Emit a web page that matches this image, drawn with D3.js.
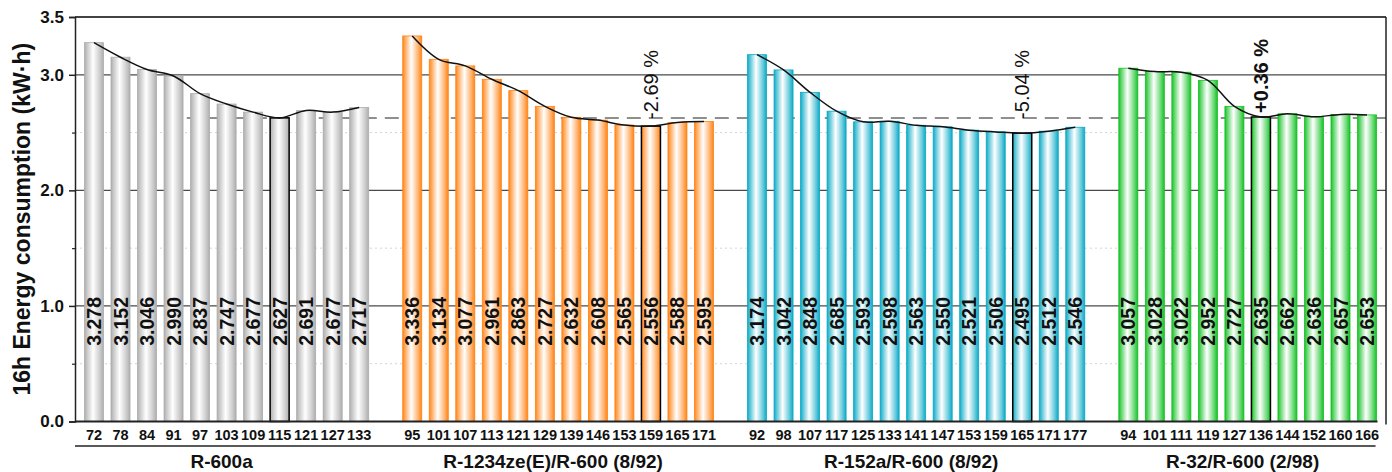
<!DOCTYPE html>
<html>
<head>
<meta charset="utf-8">
<script src="https://cdn.jsdelivr.net/npm/d3@7"></script>
<style>
  html, body { margin: 0; padding: 0; background: #fff; }
  svg { display: block; font-family: Arial, "Liberation Sans", sans-serif; }
</style>
</head>
<body>
<svg id="chart" width="1392" height="472"></svg>
<script>
// Refrigerant mixtures and their compressor speed settings / 16 h energy use
const groupNames = ["R-600a", "R-1234ze(E)/R-600 (8/92)", "R-152a/R-600 (8/92)", "R-32/R-600 (2/98)"];

const speedR600a = ["72", "78", "84", "91", "97", "103", "109", "115", "121", "127", "133"];
const energyR600a = [3.278, 3.152, 3.046, 2.990, 2.837, 2.747, 2.677, 2.627, 2.691, 2.677, 2.717];

const speedR1234ze = ["95", "101", "107", "113", "121", "129", "139", "146", "153", "159", "165", "171"];
const energyR1234ze = [3.336, 3.134, 3.077, 2.961, 2.863, 2.727, 2.632, 2.608, 2.565, 2.556, 2.588, 2.595];

const speedR152a = ["92", "98", "107", "117", "125", "133", "141", "147", "153", "159", "165", "171", "177"];
const energyR152a = [3.174, 3.042, 2.848, 2.685, 2.593, 2.598, 2.563, 2.550, 2.521, 2.506, 2.495, 2.512, 2.546];

const speedR32 = ["94", "101", "111", "119", "127", "136", "144", "152", "160", "166"];
const energyR32 = [3.057, 3.028, 3.022, 2.952, 2.727, 2.635, 2.662, 2.636, 2.657, 2.653];

const optimumIndex = [7, 9, 10, 5];
const deltaLabels = ["", "-2.69 %", "-5.04 %", "+0.36 %"];
const deltaBold = [false, false, false, true];
const referenceEnergy = energyR600a[7];

const yMajorTicks = [0, 1, 2, 3, 3.5];
const yMinorTicks = [0.5, 1.5, 2.5];

(function drawChart() {
  const speeds = [speedR600a, speedR1234ze, speedR152a, speedR32];
  const energies = [energyR600a, energyR1234ze, energyR152a, energyR32];
  const edgeColors = ["#adadad", "#ff8416", "#0aaac6", "#14c224"];
  const font = "Arial, 'Liberation Sans', sans-serif";

  // Flatten into band slots, leaving one empty slot between mixtures
  const slots = [];
  const bars = [];
  speeds.forEach((sp, g) => {
    sp.forEach((s, i) => {
      const key = `g${g}-${i}`;
      slots.push(key);
      bars.push({ key, g, i, speed: s, value: energies[g][i], optimum: optimumIndex[g] === i });
    });
    if (g < speeds.length - 1) slots.push(`gap${g}`);
  });

  const pLeft = 75, pRight = 1386, pTop = 17, pBottom = 421.5;
  const svg = d3.select("#chart");

  const x = d3.scaleBand().domain(slots).range([pLeft, pRight]).paddingInner(0.283).paddingOuter(0.357);
  const y = d3.scaleLinear().domain([0, 3.5]).range([pBottom, pTop]);
  const cx = k => x(k) + x.bandwidth() / 2;

  // Cylinder-like gradients
  const defs = svg.append("defs");
  edgeColors.forEach((c, g) => {
    const lg = defs.append("linearGradient").attr("id", `grad${g}`)
      .attr("x1", "0%").attr("x2", "100%").attr("y1", "0%").attr("y2", "0%");
    const light = d3.interpolateRgb(c, "#ffffff");
    lg.append("stop").attr("offset", "0%").attr("stop-color", c);
    lg.append("stop").attr("offset", "10%").attr("stop-color", light(0.25));
    lg.append("stop").attr("offset", "45%").attr("stop-color", "#ffffff");
    lg.append("stop").attr("offset", "80%").attr("stop-color", light(0.4));
    lg.append("stop").attr("offset", "100%").attr("stop-color", c);
  });

  // Minor dotted gridlines
  svg.append("g").selectAll("line").data(yMinorTicks).join("line")
    .attr("x1", pLeft).attr("x2", pRight)
    .attr("y1", d => y(d)).attr("y2", d => y(d))
    .attr("stroke", "#d4d4d4").attr("stroke-width", 1).attr("stroke-dasharray", "2,3");

  // Major gridlines
  svg.append("g").selectAll("line").data(yMajorTicks.filter(d => d > 0)).join("line")
    .attr("x1", pLeft).attr("x2", pRight)
    .attr("y1", d => y(d)).attr("y2", d => y(d))
    .attr("stroke", "#4a4a4a").attr("stroke-width", 1.2);

  // Reference level (R-600a optimum)
  const refStart = x("g0-4") - (x.step() - x.bandwidth()) / 2;
  svg.append("line")
    .attr("x1", refStart).attr("x2", pRight)
    .attr("y1", y(referenceEnergy)).attr("y2", y(referenceEnergy))
    .attr("stroke", "#8f8f8f").attr("stroke-width", 2).attr("stroke-dasharray", "14,8");

  // Bars
  svg.append("g").selectAll("rect").data(bars).join("rect")
    .attr("x", d => x(d.key))
    .attr("width", x.bandwidth())
    .attr("y", d => y(d.value))
    .attr("height", d => y(0) - y(d.value))
    .attr("fill", d => `url(#grad${d.g})`)
    .attr("stroke", d => d.optimum ? "#000" : edgeColors[d.g])
    .attr("stroke-width", d => d.optimum ? 1.5 : 0.8);

  // Trend curve per mixture
  const line = d3.line().x(d => cx(d.key)).y(d => y(d.value)).curve(d3.curveCatmullRom.alpha(0.5));
  groupNames.forEach((n, g) => {
    svg.append("path").datum(bars.filter(b => b.g === g))
      .attr("d", line).attr("fill", "none").attr("stroke", "#111").attr("stroke-width", 1.5);
  });

  // Value labels inside bars
  svg.append("g").selectAll("text").data(bars).join("text")
    .attr("transform", d => `translate(${cx(d.key)},${y(0.655)}) rotate(-90)`)
    .attr("text-anchor", "start").attr("dy", "0.36em")
    .attr("font-size", 19.5).attr("font-weight", "bold").attr("fill", "#111")
    .text(d => d.value.toFixed(3));

  // Change relative to R-600a optimum
  groupNames.forEach((n, g) => {
    if (!deltaLabels[g]) return;
    const b = bars.find(d => d.g === g && d.optimum);
    const yy = deltaBold[g] ? y(referenceEnergy) - 5 : y(referenceEnergy) + 1;
    svg.append("text")
      .attr("transform", `translate(${cx(b.key)},${yy}) rotate(-90)`)
      .attr("text-anchor", "start").attr("dy", "0.36em")
      .attr("font-size", 20).attr("font-weight", deltaBold[g] ? "bold" : "normal").attr("fill", "#111")
      .text(deltaLabels[g]);
  });

  // Y axis
  const yAxis = svg.append("g").attr("transform", `translate(${pLeft},0)`)
    .call(d3.axisLeft(y).tickValues(yMajorTicks).tickFormat(d3.format(".1f")).tickSize(6).tickPadding(5));
  yAxis.select(".domain").attr("stroke", "#222").attr("stroke-width", 1.5);
  yAxis.selectAll(".tick line").attr("stroke", "#222").attr("stroke-width", 1.5);
  yAxis.selectAll(".tick text").attr("font-size", 17).attr("font-weight", "bold").attr("fill", "#111")
    .attr("font-family", font);
  svg.append("g").attr("transform", `translate(${pLeft},0)`)
    .call(d3.axisLeft(y).tickValues(yMinorTicks).tickFormat("").tickSize(3))
    .call(g => g.select(".domain").remove())
    .selectAll(".tick line").attr("stroke", "#222").attr("stroke-width", 1.2);

  // X axis with speed labels
  const barSlots = bars.map(b => b.key);
  const speedOf = new Map(bars.map(b => [b.key, b.speed]));
  const xAxis = svg.append("g").attr("transform", `translate(0,${pBottom})`)
    .call(d3.axisBottom(x).tickValues(barSlots).tickFormat(k => speedOf.get(k)).tickSize(0).tickPadding(8));
  xAxis.select(".domain").remove();
  xAxis.selectAll(".tick text").attr("font-size", 14.5).attr("font-weight", "bold").attr("fill", "#111")
    .attr("font-family", font);

  const lastKey = barSlots[barSlots.length - 1];
  svg.append("line")
    .attr("x1", pLeft).attr("x2", x(lastKey) + x.bandwidth() + 1)
    .attr("y1", pBottom).attr("y2", pBottom)
    .attr("stroke", "#222").attr("stroke-width", 2);

  // Frame: top and right borders
  svg.append("line").attr("x1", pLeft).attr("x2", pRight).attr("y1", pTop).attr("y2", pTop)
    .attr("stroke", "#222").attr("stroke-width", 1.5);
  svg.append("line").attr("x1", pRight).attr("x2", pRight).attr("y1", pTop).attr("y2", pBottom + 3)
    .attr("stroke", "#222").attr("stroke-width", 1.5);

  // Separator under speed labels
  svg.append("line")
    .attr("x1", pLeft).attr("x2", x(lastKey) + x.bandwidth() - 1)
    .attr("y1", 446).attr("y2", 446)
    .attr("stroke", "#222").attr("stroke-width", 1.5);

  // Mixture names
  groupNames.forEach((n, g) => {
    const gb = bars.filter(b => b.g === g);
    const mid = (cx(gb[0].key) + cx(gb[gb.length - 1].key)) / 2 - 5;
    svg.append("text")
      .attr("x", mid).attr("y", 468)
      .attr("text-anchor", "middle")
      .attr("font-size", 19).attr("font-weight", "bold").attr("fill", "#111")
      .text(n);
  });

  // Y axis title
  svg.append("text")
    .attr("transform", `translate(22,${(pTop + pBottom) / 2}) rotate(-90)`)
    .attr("text-anchor", "middle").attr("dy", "0.36em")
    .attr("font-size", 23).attr("font-weight", "bold").attr("fill", "#111")
    .text("16h Energy consumption (kW·h)");
})();
</script>
</body>
</html>
